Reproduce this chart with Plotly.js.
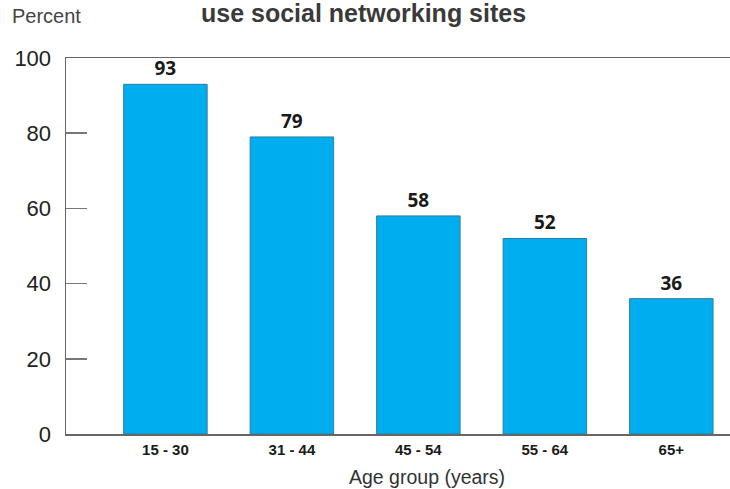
<!DOCTYPE html>
<html>
<head>
<meta charset="utf-8">
<script src="https://cdn.plot.ly/plotly-3.0.1.min.js"></script>
<style>html,body{margin:0;padding:0;background:#fff;}#chart{width:730px;height:489px;}</style>
</head>
<body>
<div id="chart"></div>
<script>
var categories = ["15 - 30", "31 - 44", "45 - 54", "55 - 64", "65+"];
var values = [93, 79, 58, 52, 36];
var yTicks = [0, 20, 40, 60, 80, 100];
var titleText = "use social networking sites";
var yLabel = "Percent";
var xLabel = "Age group (years)";

var trace = {
  type: "bar",
  x: categories,
  y: values,
  text: values.map(String),
  textposition: "outside",
  cliponaxis: false,
  textfont: {family: "Open Sans, Liberation Sans, sans-serif", size: 19, color: "#1a1a1a", weight: 700},
  marker: {color: "#00AEEF", line: {color: "#2a7fa3", width: 1}},
  hoverinfo: "none"
};

var layout = {
  width: 730, height: 489,
  margin: {l: 66, r: 0, t: 58, b: 55},
  paper_bgcolor: "#fff", plot_bgcolor: "#fff",
  showlegend: false,
  bargap: 0.34,
  title: {text: "<b>" + titleText + "</b>", font: {family: "Liberation Sans, Arial, sans-serif", size: 25, color: "#3a3a3a"}, x: 0.498, xanchor: "center", y: 0.972, yanchor: "middle"},
  xaxis: {
    type: "category",
    range: [-0.786, 4.464],
    showline: true, linecolor: "#666", linewidth: 1.5, mirror: true,
    ticks: "", showgrid: false, zeroline: false,
    tickfont: {family: "Liberation Sans Narrow, Liberation Sans, sans-serif", size: 15, color: "#1a1a1a", weight: 700},
    ticklabelstandoff: 1
  },
  yaxis: {
    range: [0, 100],
    tickvals: yTicks,
    showline: true, linecolor: "#666", linewidth: 1.5,
    ticks: "inside", ticklen: 21, tickcolor: "#777", tickwidth: 1.5,
    showgrid: false, zeroline: false,
    tickfont: {family: "Liberation Sans, Arial, sans-serif", size: 22, color: "#222"},
    ticklabelstandoff: 9
  },
  annotations: [{
    text: yLabel, xref: "paper", yref: "paper", x: -0.0294, y: 1.0, yshift: 42,
    xanchor: "center", yanchor: "middle", showarrow: false,
    font: {family: "Liberation Sans, Arial, sans-serif", size: 20, color: "#444"}
  }, {
    text: xLabel, xref: "paper", yref: "paper", x: 0.5437, y: 0, yshift: -43,
    xanchor: "center", yanchor: "middle", showarrow: false,
    font: {family: "Liberation Sans, Arial, sans-serif", size: 19.5, color: "#333"}
  }]
};

Plotly.newPlot("chart", [trace], layout, {displayModeBar: false, staticPlot: true});
</script>
</body>
</html>
